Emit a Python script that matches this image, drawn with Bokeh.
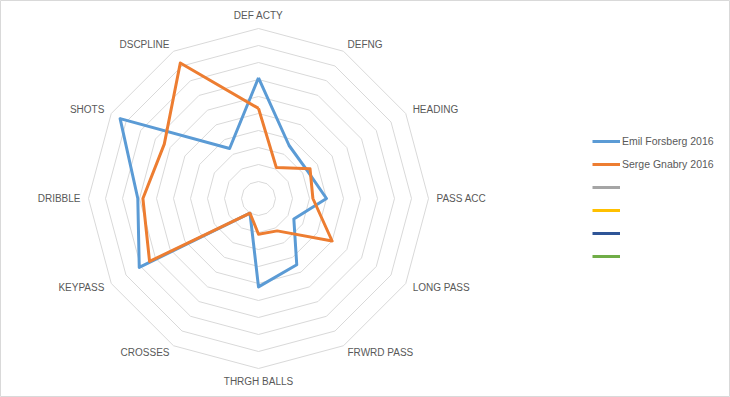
import numpy as np
from bokeh.plotting import figure
from bokeh.models import Range1d, Legend, LegendItem, ColumnDataSource
from bokeh.core.properties import value
from bokeh.embed import file_html
from bokeh.resources import INLINE

categories = ["DEF ACTY", "DEFNG", "HEADING", "PASS ACC", "LONG PASS", "FRWRD PASS",
              "THRGH BALLS", "CROSSES", "KEYPASS", "DRIBBLE", "SHOTS", "DSCPLINE"]
emil = [7.1, 3.6, 3.3, 4.0, 2.4, 4.5, 5.2, 1.0, 8.1, 7.1, 9.4, 3.4]
serge = [5.3, 2.1, 3.5, 3.2, 5.0, 2.2, 2.1, 1.0, 7.4, 6.8, 6.4, 9.2]
series_names = ["Emil Forsberg 2016", "Serge Gnabry 2016", "\u00a0", "\u00a0", "\u00a0", "\u00a0"]
series_colors = ["#5B9BD5", "#ED7D31", "#A5A5A5", "#FFC000", "#2F5597", "#70AD47"]
ring_levels = list(range(1, 11))

W, H = 730, 397
cx_px, cy_px, unit = 258, 198, 17.0

p = figure(width=W, height=H, output_backend="svg", toolbar_location=None,
           x_range=Range1d(-cx_px / unit, (W - cx_px) / unit),
           y_range=Range1d(-(H - cy_px) / unit, cy_px / unit),
           min_border=0, min_border_left=0, min_border_right=0,
           min_border_top=0, min_border_bottom=0)
p.axis.visible = False
p.grid.visible = False
p.outline_line_color = "#d9d9d9"
p.background_fill_color = "white"
p.border_fill_color = "white"

n = len(categories)
theta = np.deg2rad(np.arange(n) * 360.0 / n)
s, c = np.sin(theta), np.cos(theta)

# rings
xs = [list(r * s) + [r * s[0]] for r in ring_levels]
ys = [list(r * c) + [r * c[0]] for r in ring_levels]
p.multi_line(xs, ys, line_color="#d9d9d9", line_width=1)

# series
renderers = []
for vals, col in [(emil, series_colors[0]), (serge, series_colors[1])]:
    v = np.array(vals)
    x = list(v * s) + [v[0] * s[0]]
    y = list(v * c) + [v[0] * c[0]]
    renderers.append(p.line(x, y, line_color=col, line_width=3, line_join="round"))
# empty series (no data inside the visible range)
for col in series_colors[2:]:
    renderers.append(p.line([500, 501], [500, 501], line_color=col, line_width=3))

# category labels
lx, ly, la = [], [], []
for i in range(n):
    if abs(s[i]) < 1e-6:
        rl = 10.78
        la.append("center")
    else:
        rl = 10.47
        la.append("left" if s[i] > 0 else "right")
    lx.append(rl * s[i])
    ly.append(rl * c[i])
src = ColumnDataSource(dict(x=lx, y=ly, t=categories, a=la))
p.text(x="x", y="y", text="t", text_align="a", text_baseline="middle", source=src,
       text_font=value("Liberation Sans"), text_font_size="10px", text_color="#595959")

legend = Legend(items=[LegendItem(label=nm, renderers=[r]) for nm, r in zip(series_names, renderers)],
                location=(592, 131), orientation="vertical",
                glyph_width=28, glyph_height=20, label_height=20, spacing=3,
                label_standoff=2, padding=0, margin=0, border_line_color=None,
                background_fill_alpha=0,
                label_text_font="Liberation Sans", label_text_font_size="10.5px",
                label_text_color="#595959")
p.add_layout(legend, "center")

open("out.html", "w").write(file_html(p, INLINE))
